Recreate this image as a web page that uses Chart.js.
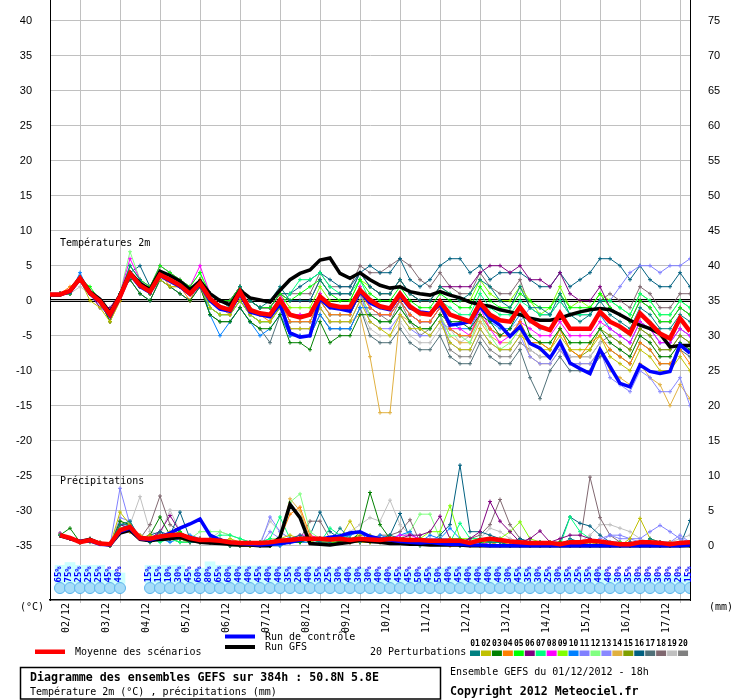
<!DOCTYPE html>
<html>
<head>
<meta charset="utf-8">
<script src="https://cdn.jsdelivr.net/npm/chart.js@4.4.0/dist/chart.umd.min.js"></script>
<style>
  html, body { margin: 0; padding: 0; background: #fff; }
  #wrap { width: 740px; height: 700px; }
</style>
</head>
<body>
<div id="wrap"><canvas id="chart" width="740" height="700"></canvas></div>
<script>
// Time axis: hours after the 01/12 18h run, every 6h up to 384h
const HOURS = [0,6,12,18,24,30,36,42,48,54,60,66,72,78,84,90,96,102,108,114,120,126,132,138,144,150,156,162,168,174,180,186,192,198,204,210,216,222,228,234,240,246,252,258,264,270,276,282,288,294,300,306,312,318,324,330,336,342,348,354,360,366,372,378,384];
const DATE_TICKS = [6,30,54,78,102,126,150,174,198,222,246,270,294,318,342,366];
const DATE_LABELS = ["02/12","03/12","04/12","05/12","06/12","07/12","08/12","09/12","10/12","11/12","12/12","13/12","14/12","15/12","16/12","17/12"];
const TEMP_TICKS = [-35,-30,-25,-20,-15,-10,-5,0,5,10,15,20,25,30,35,40];
const PRECIP_TICKS = [0,5,10,15,20,25,30,35,40,45,50,55,60,65,70,75];

// Temperature 2m (°C)
const T_MEAN = [0.9,0.9,1.4,3.2,1.1,-0.1,-2.0,0.6, 3.9,2.2,1.3,3.7,3.0,2.2,1.0,2.5, 0.3,-0.9,-1.3,1.3,-1.3,-1.8,-2.0,0.1, -2.0,-2.4,-2.0,0.6,-0.6,-0.9,-0.9,1.5, 0.1,-0.8,-1.1,1.0,-0.8,-1.8,-2.0,-0.1, -2.0,-2.5,-3.0,-0.3,-2.0,-2.8,-3.0,-0.9, -2.8,-3.7,-4.2,-1.8,-4.0,-4.0,-4.0,-1.6, -3.0,-3.7,-4.7,-1.8,-3.2,-4.7,-5.4,-2.5, -4.4];
const T_CTRL = [0.9,0.9,1.3,3.1,1.0,-0.2,-2.2,0.5, 3.8,2.0,1.2,3.6,2.8,2.0,0.9,2.3, 0.0,-1.2,-1.5,1.0,-1.6,-2.0,-2.3,-0.5, -4.6,-5.2,-5.0,0.3,-1.0,-1.2,-1.5,1.3, -0.3,-1.0,-1.3,0.8,-1.0,-1.6,-1.8,-0.5, -3.5,-3.3,-3.0,-0.8,-2.5,-3.5,-5.1,-3.7, -6.1,-6.8,-8.2,-5.9,-8.9,-9.7,-10.4,-7.0, -9.4,-11.8,-12.3,-9.2,-10.1,-10.4,-10.1,-6.3, -7.5];
const T_GFS = [0.8,0.8,1.4,3.3,1.3,0.2,-1.7,0.8, 4.0,2.5,1.6,4.2,3.6,2.8,1.6,2.8, 1.0,0.0,-0.6,1.5,0.4,0.1,-0.2,1.5, 3.0,3.9,4.4,5.8,6.1,3.9,3.2,4.0, 3.0,2.2,1.8,2.0,1.3,1.0,0.8,1.3, 0.8,0.4,-0.2,-0.6,-0.8,-1.3,-1.6,-2.0, -2.5,-2.8,-2.8,-2.5,-2.0,-1.6,-1.3,-1.1, -1.3,-2.0,-2.8,-3.5,-4.0,-4.7,-6.6,-6.4, -6.4];
const t01 = [1,1,1,3,1,0,-2,1, 5,3,1,4,3,2,1,2, 1,0,-1,2,0,-1,0,2, 0,0,0,3,1,1,1,4, 2,1,1,3,1,0,0,2, 1,0,1,3,2,0,-1,2, -1,-1,-2,1,-2,-3,-2,0, -2,-3,-4,-1,-2,-4,-4,-2, -3];
const t02 = [1,1,1,3,0,-1,-3,0, 4,2,1,3,2,2,1,2, -1,-2,-2,0,-2,-3,-3,-1, -4,-4,-4,-1,-3,-3,-3,0, -3,-4,-5,-2,-4,-4,-5,-3, -6,-7,-7,-4,-6,-7,-7,-5, -6,-7,-7,-5,-7,-7,-7,-5, -8,-9,-10,-7,-8,-10,-10,-8, -10];
const t03 = [1,1,1,3,1,0,-3,1, 3,1,0,3,2,1,0,2, -2,-3,-3,-1,-3,-4,-4,-2, -6,-6,-7,-3,-6,-5,-5,-2, -2,-3,-3,-1,-3,-4,-4,-2, -3,-3,-4,-2,-3,-5,-4,-1, -5,-6,-6,-4,-6,-6,-6,-4, -6,-7,-8,-5,-6,-8,-8,-6, -7];
const t04 = [1,1,2,3,1,0,-3,0, 4,2,1,4,2,2,0,3, 0,-1,-2,1,-1,-2,-3,0, -3,-3,-3,0,-2,-2,-2,1, -1,-2,-2,0,-2,-3,-3,-1, -4,-5,-5,-2,-4,-5,-5,-3, -6,-6,-7,-4,-7,-8,-6,-5, -7,-8,-9,-6,-7,-9,-9,-7, -9];
const t05 = [1,1,1,3,2,0,-2,1, 5,3,2,5,4,3,2,4, 1,0,0,2,0,-1,-1,1, 0,1,2,3,1,0,0,3, 1,0,0,2,0,-1,-1,1, 0,-1,-1,2,0,-1,-1,1, 0,-1,-1,1,-1,-1,-1,1, -1,-2,-3,0,-1,-3,-3,-1, -2];
const t06 = [1,1,1,3,1,-1,-1,1, 4,2,1,4,3,2,1,3, 1,0,0,2,0,-1,-1,1, 0,0,0,3,1,1,1,4, 2,1,1,3,1,0,0,2, 2,2,2,4,5,5,4,5, 3,3,2,4,1,0,0,2, -1,-2,-3,0,-1,-3,-3,-1, -2];
const t07 = [1,1,1,3,1,0,-2,1, 4,2,1,4,3,2,1,3, -1,-2,-2,0,-2,-3,-3,-1, 1,3,3,4,2,1,1,3, 0,-1,-1,1,-1,-2,-2,0, -1,-2,-2,1,-1,-2,-2,0, -1,-2,-2,0,-2,-2,-2,0, 0,-1,-2,1,0,-2,-2,0, -1];
const t08 = [1,1,1,3,1,0,-2,1, 6,3,2,5,4,3,2,5, 1,0,0,2,0,-1,-1,1, -2,-2,-2,1,-1,-1,-1,2, -1,-2,-2,0,-2,-3,-3,-1, -4,-4,-5,-1,-4,-6,-5,-3, -4,-5,-5,-3,-5,-5,-5,-3, -4,-5,-6,-3,-4,-6,-6,-4, -5];
const t09 = [1,1,1,3,1,0,-2,1, 4,2,1,4,3,2,1,3, 1,0,0,2,0,-1,-1,1, -1,-1,-1,2,0,0,0,3, 2,1,1,3,1,0,0,2, 1,0,0,3,1,0,0,2, 0,-2,-1,2,-1,0,-1,1, 0,-1,-2,1,0,-2,-2,0, -1];
const t10 = [1,1,1,4,1,0,-2,1, 4,2,1,4,3,2,1,3, -2,-5,-3,-1,-3,-5,-4,-2, -5,-5,-5,-2,-4,-4,-4,-1, -1,-2,-2,0,-2,-3,-3,-1, -3,-4,-4,-1,-3,-4,-4,-2, -3,-4,-4,-2,-4,-4,-4,-2, -4,-5,-6,-3,-4,-6,-6,-4, -5];
const t11 = [1,1,1,3,1,0,-2,1, 4,2,1,4,3,2,1,3, 0,-1,-1,1,-1,-2,-2,0, -3,-3,-3,0,-2,-2,-2,1, -3,-4,-4,-2,-4,-5,-5,-3, -4,-5,-5,-2,-4,-5,-5,-3, -1,-2,-2,0,-2,-2,-2,0, 0,2,4,5,5,4,5,5, 6];
const t12 = [1,1,1,3,1,0,-2,1, 7,3,2,5,4,3,2,4, 0,-1,-1,1,-1,-2,-2,0, -3,-3,-3,0,-2,-2,-2,1, -2,-3,-3,-1,-3,-4,-4,-2, -5,-5,-6,-2,-5,-7,-6,-4, -5,-6,-6,-4,-6,-6,-6,-4, -3,-4,-5,-2,-3,-5,-5,-3, -4];
const t13 = [1,1,1,3,1,-1,-2,1, 3,1,0,3,2,1,0,2, -1,-2,-2,0,-2,-3,-3,-1, -4,-4,-4,-1,-3,-3,-3,0, -2,-3,-3,-1,-3,-4,-4,-2, -6,-7,-7,-4,-6,-7,-7,-5, -8,-9,-9,-7,-9,-9,-9,-7, -11,-12,-13,-10,-11,-13,-13,-11, -15];
const t14 = [1,1,1,3,1,0,-2,1, 4,2,1,4,3,2,1,3, 0,-1,-1,1,-1,-2,-2,0, -4,-4,-4,-1,-3,-3,-3,-2, -8,-16,-16,-2,-3,-4,-4,-2, -5,-6,-6,-3,-5,-6,-6,-4, -8,-9,-9,-7,-9,-9,-9,-7, -10,-11,-12,-9,-11,-12,-15,-12, -14];
const t15 = [1,1,1,3,1,0,-2,1, 4,2,1,4,3,2,1,3, -1,-2,-2,0,-2,-3,-3,-1, -2,-2,-2,1,-1,-1,-1,2, -1,-2,-2,0,-2,-3,-3,-1, -4,-5,-5,-2,-4,-5,-5,-3, -6,-6,-7,-4,-7,-8,-7,-4, -5,-6,-7,-4,-5,-7,-7,-5, -6];
const t16 = [1,1,1,3,1,0,-2,1, 4,5,2,4,3,2,1,3, 1,0,0,2,0,-1,-1,1, 1,2,3,4,3,2,2,4, 5,4,4,6,3,2,3,5, 6,6,4,5,3,4,4,4, 3,2,2,4,2,3,4,6, 6,5,3,5,3,2,2,4, 2];
const t17 = [1,1,1,3,1,0,-3,1, 3,1,0,3,2,1,0,2, -2,-3,-3,-1,-3,-4,-6,-2, -5,-5,-5,-2,-4,-4,-4,-1, -5,-6,-6,-4,-6,-7,-7,-5, -8,-9,-9,-6,-8,-9,-9,-7, -11,-14,-10,-8,-10,-10,-10,-8, -7,-8,-9,-6,-7,-9,-9,-7, -8];
const t18 = [1,1,1,3,1,0,-2,1, 4,2,1,4,3,2,1,3, 1,0,0,2,0,-1,-1,1, 1,1,1,4,2,2,2,5, 4,4,5,6,5,3,2,4, 2,1,1,4,2,1,1,3, -1,-2,-2,0,-2,-2,-2,0, 1,0,-1,2,1,-1,-1,1, 1];
const t19 = [1,1,1,2,1,0,-2,1, 4,2,1,3,3,2,1,3, 0,-1,-1,1,-1,-2,-2,0, -5,-5,-5,-2,-4,-4,-4,-1, -4,-5,-5,-3,-5,-6,-6,-4, -4,-6,-5,-3,-4,-5,-4,-3, -7,-8,-8,-6,-8,-8,-8,-6, -6,-7,-8,-5,-6,-8,-8,-6, -7];
const t20 = [1,1,1,3,1,0,-2,1, 4,2,1,4,3,2,1,3, 0,-1,-1,1,-1,-2,-2,0, -3,-3,-3,0,-2,-2,-2,1, -2,-2,-3,0,-3,-5,-4,-2, -7,-8,-8,-5,-7,-8,-8,-6, -7,-8,-8,-6,-8,-8,-8,-6, -5,-6,-7,-4,-5,-7,-7,-5, -6];

// Precipitation (mm per 6h), from +6h
const P_MEAN = [1.5,1.1,0.5,0.8,0.3,0.2,2.2,2.7, 1.1,1.0,1.3,1.5,1.6,1.1,0.8,0.8, 0.7,0.5,0.4,0.4,0.4,0.5,0.7,0.8, 1.0,1.0,1.0,0.9,1.0,0.8,1.0,0.9, 0.8,1.0,0.9,0.8,0.8,0.7,0.7,0.7, 0.7,0.4,0.8,1.0,0.8,0.6,0.5,0.4, 0.4,0.4,0.2,0.5,0.5,0.7,0.6,0.4, 0.2,0.2,0.5,0.5,0.4,0.2,0.4,0.5];
const P_CTRL = [1.5,1,0.6,0.7,0.2,0.1,2,2.5, 1,0.8,1.2,1.8,2.5,3.1,3.8,1.5, 0.8,0.5,0.3,0.2,0.1,0.2,0.3,0.5, 0.8,1,0.9,1.2,1.4,1.8,2,1.3, 1,0.8,0.6,0.5,0.4,0.5,0.3,0.2, 0.2,0.1,0.1,0,0,0,0,0, 0,0,0,0,0,0,0,0, 0,0,0,0,0,0,0,0.1];
const P_GFS = [1.4,1,0.6,0.9,0.3,0.1,1.8,2.2, 0.9,0.7,0.9,1,1.2,0.8,0.5,0.4, 0.3,0.2,0.1,0.1,0,0,1.2,5.9, 4,0.3,0.2,0.1,0.3,0.5,0.8,0.6, 0.5,0.3,0.3,0.2,0.2,0.1,0.1,0.1, 0.1,0,0,0,0,0,0,0, 0,0,0,0,0,0,0,0, 0,0,0,0,0,0,0,0];
const rr01 = [1.5,1,0.5,1,0.3,0,3,3.5, 1,0.5,2,1,1.5,0.5,0.5,1, 0.5,0,0,0.5,0,0,0.5,1, 1.5,1,0.5,0.5,2.5,1,0.5,1, 0.5,1.5,1,0.5,0,0.5,1,0.5, 0,0.5,1,0.5,0.5,0,0,0.5, 0.5,0,0,1,0.5,0,0,0, 0,0.5,0,1,0.5,0,0,0.5];
const rr02 = [1.5,1,0.5,1,0.5,0,4.8,3, 1,1.5,1,2,1.5,1,0.5,0.5, 0.5,1,0.5,0,0,0.5,1,1.5, 1,0.5,1,0.5,1,3.5,1,0.5, 1,0.5,0.5,1,0,0.5,0.5,0, 0.5,0,1,0.5,0,0.5,0,0, 0,0.5,0,0,0,0.5,0,0, 0,1,3.9,1,0.5,0,0,0];
const rr03 = [1.5,2.5,0.5,0.5,0.3,0,3.5,3, 1,1.5,4.1,1.5,1,0.5,0.5,0.5, 0.5,0,0,0,0.5,0,0.5,0.5, 0.5,1,1,1,0.5,0.5,2,7.6, 3,1,0.5,0.5,1,0.5,0.5,0.5, 0,0.5,0.5,1,0.5,0,0,0, 0,0,0.5,0,0,0,0.5,0, 0,0,0,0.5,0,0,0,0.5];
const rr04 = [1.5,1,0.5,0.8,0.3,0,2.5,2, 1.5,1,1,1.5,1,0.5,1,1, 0.5,0.5,0,0,0,0.5,1,4.5, 5.5,1.5,0.5,0.5,1,0.5,0.5,0.5, 0.5,0.5,1,1,0.5,0.5,0.5,1, 0.5,0.5,0,1,0.5,0,0.5,0, 0,0,0.5,0,0.5,0,0,0, 0,0,0.5,0,0,0.5,0,0];
const rr05 = [1.5,1,0.5,0.8,0.3,0.2,2,3, 1,0.5,1,1.5,2,1,0.5,0.5, 0.5,0.5,0.5,0,0,0,0.5,0.5, 0.5,1,0.5,0.5,0.5,0.5,0.5,0.5, 0.5,0.5,0.5,0.5,0.5,0.5,0.5,1, 1,0.5,0.5,0.5,0.5,0.5,0,0, 0,0,0,0,0,0,0,0, 0,0,0,0,0,0,0,0];
const rr06 = [1.8,1,0.5,1,0.5,0,3,2.5, 1,1,2,4.3,2,1,1,0.5, 0.5,0.5,0,0,0,0,0.5,0.5, 1,1,1,0.5,1,0.5,0.5,1, 1,0.5,1,1.5,1.5,2,4.2,1, 0.5,1,2,6.3,3.5,2,0.5,1, 2.1,0.5,1,1.5,1.5,1,0.5,0, 0,0.5,0,0,0.5,0,0,0];
const rr07 = [1.5,1,0.5,0.8,0.3,0,2.5,2.5, 1.5,1,0.5,1,0.5,0.5,1,1, 1.5,1.5,1,0.5,0.5,1,4.1,1, 0.5,1,0.5,2.5,1.5,1,0.5,1, 1,0.5,0.5,1,1,0.5,0.5,0.5, 3.2,1,1,0.5,0.5,0.5,0.5,0.5, 0.5,0.5,0,4.1,2,1,0.5,0, 0,0,0.5,0,0,0,0,0];
const rr08 = [1.5,1,0.5,0.8,0.2,0,2,2.5, 1,1,2,1,1,0.5,0.5,0.5, 0.5,0,0,0,0,0,0.5,1, 1.5,1.5,1,1,0.5,0.5,1,1, 1,1,1.5,1.5,1,0.5,0.5,0, 0,0,0,0.5,0,0,0,0, 0,0,0,0,0,0,0,0, 0,0,0,0,0,0,0,0];
const rr09 = [1.5,1,0.5,0.8,0.3,0,2.5,2, 1,1,1.5,1,0.5,0.5,0.5,1, 0.5,0,0,0,0,0,0.5,1, 1,1,0.5,0.5,0.5,1,1,1, 1,1,0.5,0.5,1,2,2,5.7, 1,1,1,1,1,2,3.4,1, 0.5,0.5,0,0,0,0,0,0, 0.5,0,0,0,0,0,0,0];
const rr10 = [1.5,1,0.5,0.8,0.3,0,2.5,3, 1,1,1,0.5,1,1.5,1,0.5, 0.5,0.5,0,0,0,0,0,0.5, 0.5,0.5,1,1,1,1.5,2,0.5, 1.5,1,1.5,2,0.5,1.5,1,2.5, 1,0.5,0.5,0.5,0,0,0,0, 0,0,0,0.5,0.5,0,0,0, 0,0,0,0,0,0,0,0];
const rr11 = [1.5,1,0.5,0.8,0.3,0,8.2,3, 1,0.5,1,1,1,0.5,0.5,0.5, 0.5,0.5,0,0,0,4.1,2,1, 0.5,1,1,0.5,0.5,1,1,1, 1,0.5,1,0.5,0.5,0.5,1,1, 0.5,0.5,0.5,0.5,1,0.5,0.5,0, 0,0,0,0,0,0.5,0.5,1.5, 1.5,1,1,2,2.9,2,1,0.5];
const rr12 = [1.5,1,0.5,0.8,0.3,0,3,2.5, 1,1,1.5,1,1,1,2,2, 2,1.5,1,0.5,0.5,1,1,6.2, 7.4,2,1,0.5,0.5,1,0.5,0.5, 0.5,1,1,2,4.5,4.5,1,1, 0.5,0.5,0.5,0,0,0,0,0.5, 0.5,0,0,0,0,0,0,0, 0,0,0,0,0,0,0,0];
const rr13 = [1.5,1,0.5,0.8,0.3,0,4,3.5, 1,1,1,1,0.5,0.5,0.5,0.5, 0.5,0,0,0,0,2,1,1, 1,0.5,0.5,0.5,1,1,1,0.5, 0.5,0.5,0.5,0.5,1,1,1,0.5, 0.5,0.5,0.5,0.5,0.5,0.5,0.5,0.5, 0.5,0,0,0,0.5,0.5,1,1.5, 1,1,0.5,0.5,0.5,0.5,1.5,0.5];
const rr14 = [1.5,1,0.5,0.8,0.3,0,3.5,3, 1,1,1.5,1,1,0.5,0.5,0.5, 0.5,0,0,0,0,0,1,6.7, 5,1,0.5,0.5,0.5,0.5,0.5,0.5, 0.5,0.5,0.5,0.5,0.5,0.5,1,0.5, 0.5,0.5,0,0,0,0,0,0, 0,0,0,0,0,0,0,0, 0,0,0,0,0,0,0,0];
const rr15 = [1.5,1,0.5,0.8,0.3,0,2.5,2.5, 1,0.5,1,1,1,0.5,1,1, 0.5,0.5,0,0,0,0,0.5,1, 1,1,1,1,0.5,1,1.5,1.5, 1,1,0.5,0.5,0.5,0.5,1,0.5, 0.5,0.5,0.5,0.5,0.5,0.5,0,0, 0,0,0.5,0.5,0,0,0,0, 0,0,0,0,0,0.5,0,0];
const rr16 = [1.5,1,0.5,0.8,0.3,0,3,3, 1,1.5,2,1.5,4.8,1,1,0.5, 0.5,0.5,0,0,0,0,0.5,0.5, 1,1.5,4.8,2,1,0.5,0.5,1, 1,1.5,4.6,1,1,0.5,1.5,3, 11.5,2,2,1.5,1,0.5,1,0.5, 0.5,0.5,0.5,4.1,3.2,2.8,1.5,0.5, 0.5,0,0,0,0,0,0,3.6];
const rr17 = [1.5,1,0.5,0.8,0.3,0,2.5,2.5, 1,1,1,1.5,1,1,0.5,0.5, 0.5,0.5,0,0,0,0,0,0.5, 0.5,1,1,1,1,1,1,1, 1,0.5,0.5,0.5,0.5,0.5,0.5,0.5, 0.5,0.5,0.5,0,0,0,0,0, 0,0,0,0,0,0.5,0.5,0, 0,0,0,0,0,0,0,0];
const rr18 = [1.5,1,0.5,0.8,0.3,0,2,2.5, 1,3,7.1,3,2,1,0.5,1, 1,0.5,0,0,0,0,0.5,0.5, 1,3.5,3.5,1,1,0.5,0.5,1, 1.5,1.5,2,3.7,0.5,0.5,0.5,0.5, 0.5,1,1.5,3,6.6,3,1,0.5, 0.5,0.5,0,0,0.5,9.8,4,1.5, 0.5,0,0,0,0,0,0,0];
const rr19 = [1.5,1,0.5,0.8,0.3,0,2.5,3, 7,2,1.5,5.1,2,1,1,1, 2,1.5,1,0.5,0.5,3.5,2,1, 1,1,1,1,1.5,2,3,4, 3.5,6.5,3,1.5,1,0.5,1,0.5, 0.5,0.5,1,2.5,2,1,0.5,0.5, 0.5,0,0,0,0.5,1.5,3,3, 2.5,2,1,0.5,0.5,0.5,1,1.5];
const rr20 = [1.5,1,0.5,0.8,0.3,0,2,2, 1,0.5,1,1,0.5,0.5,0.5,0.5, 0.5,0,0,0,0,0,0,0.5, 0.5,0.5,0.5,0.5,0.5,0.5,0.5,0.5, 0.5,0.5,0.5,0.5,0.5,0.5,0.5,0.5, 0.5,0,0,0,0,0,0,0, 0,0,0,0,0,0,0,0, 0,0,0,0,0.5,0.5,0.5,0.5];

// Probability of precipitation (%) per 6h step, and the height of the cyan band behind it
const RAIN_PROB = [65,75,25,25,25,45,40,null,null, 15,15,10,30,45,60,80,65,60,40,40,45,40,40,35,20,40,35,25,30,40,30,30, 40,40,45,45,50,45,50,40,45,40,40,40,40,30,45,35,30,25,30,35,25,35,40,40,30,35,30,30,30,30,20,15];
const BAND_TOP = [-37.8,-37.4,-37.8,-37.8,-37.8,-38.5,-38.9,null,null, -37.8,-37.8,-37.8,-37.8,-38.5,-38.2,-37.3,-37.8,-37.8,-37.9,-37.9,-37.9,-37.9,-38.0,-38.0,-38.0,-38.0,-38.2,-38.2,-38.2,-38.2,-38.2,-38.5, -38.5,-38.5,-38.5,-38.5,-38.5,-38.2,-38.2,-38.0,-38.0,-38.0,-38.0,-38.0,-38.0,-38.2,-38.2,-38.2,-38.5,-38.5,-38.5,-38.5,-38.5,-38.5,-38.5,-39.3,-39.3,-39.3,-39.3,-39.3,-39.3,-39.3,-39.3,-39.3];

const T_PERT = [t01,t02,t03,t04,t05,t06,t07,t08,t09,t10,t11,t12,t13,t14,t15,t16,t17,t18,t19,t20];
const P_PERT = [rr01,rr02,rr03,rr04,rr05,rr06,rr07,rr08,rr09,rr10,rr11,rr12,rr13,rr14,rr15,rr16,rr17,rr18,rr19,rr20];
const PERT_COLORS = ["#008080","#c0c000","#008000","#ff8000","#00ff00","#800080","#00ff80","#ff00ff","#80ff00","#0080ff",
                     "#8080ff","#80ff80","#8888ff","#e0b040","#80a000","#006080","#507078","#806870","#c0c0c0","#808080"];

const BAND_BASE = -40.4;   // bottom of the cyan band (°C axis)
const ICON_ROW = -41.05;   // row of weather icons
const MONO = '"DejaVu Sans Mono", monospace';
const STEP_HOURS = HOURS.slice(1);

const toXY = (vals, hrs) => vals.map((v, i) => ({ x: hrs[i], y: v }));

const lineSet = (vals, hrs, color, width, axis, order, marks) => ({
  type: "line",
  data: toXY(vals, hrs),
  borderColor: color,
  backgroundColor: color,
  borderWidth: width,
  pointStyle: "cross",
  pointRadius: marks ? 2 : 0,
  pointBorderWidth: 1,
  pointBorderColor: color,
  tension: 0,
  yAxisID: axis,
  order: order,
});

const datasets = [];
// Main runs on top
datasets.push(lineSet(T_MEAN, HOURS, "#ff0000", 4.5, "y", 0, false));
datasets.push(lineSet(P_MEAN, STEP_HOURS, "#ff0000", 4.5, "y2", 0, false));
datasets.push(lineSet(T_CTRL, HOURS, "#0000ff", 3.5, "y", 1, false));
datasets.push(lineSet(P_CTRL, STEP_HOURS, "#0000ff", 3.5, "y2", 1, false));
datasets.push(lineSet(T_GFS, HOURS, "#000000", 3.5, "y", 2, false));
datasets.push(lineSet(P_GFS, STEP_HOURS, "#000000", 3.5, "y2", 2, false));
T_PERT.forEach((vals, i) => datasets.push(lineSet(vals, HOURS, PERT_COLORS[i], 1, "y", 3, true)));
P_PERT.forEach((vals, i) => datasets.push(lineSet(vals, STEP_HOURS, PERT_COLORS[i], 1, "y2", 3, true)));

// Cyan probability band and icon row
datasets.push({
  type: "bar",
  data: BAND_TOP.map((v, i) => ({ x: STEP_HOURS[i], y: v === null ? null : [BAND_BASE, v] })),
  backgroundColor: "#ccffff",
  borderWidth: 0,
  barThickness: 10,
  grouped: false,
  yAxisID: "y",
  order: 20,
});
datasets.push({
  type: "line",
  data: RAIN_PROB.map((v, i) => ({ x: STEP_HOURS[i], y: v === null ? null : ICON_ROW })),
  showLine: false,
  pointStyle: "circle",
  pointRadius: 5.5,
  pointBackgroundColor: "#a6dcf8",
  pointBorderColor: "#5ab4ec",
  pointBorderWidth: 1,
  yAxisID: "y",
  order: 19,
});

const overlay = {
  id: "overlay",
  beforeDatasetsDraw(chart) {
    const { ctx, chartArea: a, scales } = chart;
    const y0 = Math.round(scales.y.getPixelForValue(0));
    ctx.save();
    ctx.strokeStyle = "#000";
    ctx.lineWidth = 1;
    [y0 - 1.5, y0 + 0.5].forEach((py) => {
      ctx.beginPath();
      ctx.moveTo(a.left, py);
      ctx.lineTo(a.right, py);
      ctx.stroke();
    });
    ctx.restore();
  },
  afterDatasetsDraw(chart) {
    const { ctx, scales } = chart;
    ctx.save();
    ctx.fillStyle = "#0000ff";
    ctx.font = "bold 9px " + MONO;
    ctx.textAlign = "center";
    ctx.textBaseline = "middle";
    const py = scales.y.getPixelForValue(-39.1);
    RAIN_PROB.forEach((v, i) => {
      if (v === null) return;
      const px = scales.x.getPixelForValue(STEP_HOURS[i]);
      ctx.save();
      ctx.translate(px - 1, py);
      ctx.rotate(-Math.PI / 2);
      ctx.fillText(v + "%", 0, 0);
      ctx.restore();
    });
    ctx.restore();
  },
  afterDraw(chart) {
    const { ctx } = chart;
    ctx.save();
    ctx.fillStyle = "#000";
    ctx.textBaseline = "middle";
    ctx.textAlign = "left";
    ctx.font = "10px " + MONO;
    ctx.fillText("Températures 2m", 60, 243);
    ctx.fillText("Précipitations", 60, 481);
    ctx.fillText("(°C)", 20, 607);
    ctx.fillText("(mm)", 709, 607);

    // legend swatches
    const swatch = (x, y, w, h, c) => { ctx.fillStyle = c; ctx.fillRect(x, y, w, h); };
    swatch(225, 634.5, 30, 4, "#0000ff");
    swatch(225, 645, 30, 4, "#000000");
    swatch(35, 649.5, 30, 4.5, "#ff0000");
    ctx.fillStyle = "#000";
    ctx.fillText("Run de contrôle", 265, 637);
    ctx.fillText("Run GFS", 265, 647);
    ctx.fillText("Moyenne des scénarios", 75, 652);
    ctx.fillText("20 Perturbations", 370, 652);

    ctx.textAlign = "center";
    ctx.font = "bold 8px " + MONO;
    PERT_COLORS.forEach((c, i) => {
      const x = 470 + i * 10.95;
      ctx.fillStyle = "#000";
      ctx.fillText(String(i + 1).padStart(2, "0"), x + 5, 644);
      swatch(x, 650.5, 10, 5.5, c);
    });

    // title box
    ctx.strokeStyle = "#000";
    ctx.lineWidth = 1.5;
    ctx.strokeRect(20.5, 667.5, 420, 31.5);
    ctx.fillStyle = "#000";
    ctx.textAlign = "left";
    ctx.font = "bold 11.6px " + MONO;
    ctx.fillText("Diagramme des ensembles GEFS sur 384h : 50.8N 5.8E", 30, 677.5);
    ctx.font = "10px " + MONO;
    ctx.fillText("Température 2m (°C) , précipitations (mm)", 30, 692);
    ctx.fillText("Ensemble GEFS du 01/12/2012 - 18h", 450, 672);
    ctx.font = "bold 11.6px " + MONO;
    ctx.fillText("Copyright 2012 Meteociel.fr", 450, 692);
    ctx.restore();
  },
};

// vertical axes: fixed width, no extra padding above/below the plot
const fitVertical = (s) => { s.width = 50; s.paddingTop = 0; s.paddingBottom = 0; };

new Chart(document.getElementById("chart").getContext("2d"), {
  data: { datasets },
  plugins: [overlay],
  options: {
    responsive: false,
    animation: false,
    devicePixelRatio: 1,
    layout: { padding: 0, autoPadding: false },
    plugins: { legend: { display: false }, tooltip: { enabled: false } },
    scales: {
      x: {
        type: "linear",
        min: 0,
        max: 384,
        offset: false,
        afterBuildTicks: (s) => { s.ticks = DATE_TICKS.map((v) => ({ value: v })); },
        afterFit: (s) => { s.height = 100; s.paddingLeft = 0; s.paddingRight = 0; },
        ticks: {
          autoSkip: false,
          minRotation: 90,
          maxRotation: 90,
          padding: 0,
          labelOffset: 6,
          color: "#000",
          font: { family: MONO, size: 10 },
          callback: (v) => DATE_LABELS[DATE_TICKS.indexOf(v)] || "",
        },
        grid: { color: "#c0c0c0", tickColor: "#c0c0c0", tickLength: 3 },
        border: { color: "#000", width: 1.5 },
      },
      y: {
        position: "left",
        min: -42.76,
        max: 42.96,
        afterBuildTicks: (s) => { s.ticks = TEMP_TICKS.map((v) => ({ value: v })); },
        afterFit: fitVertical,
        ticks: { padding: 18, color: "#000", font: { family: "Liberation Sans", size: 11 } },
        grid: { color: "#c0c0c0", drawTicks: false },
        border: { color: "#000", width: 1 },
      },
      y2: {
        position: "right",
        min: -7.76,
        max: 77.96,
        afterBuildTicks: (s) => { s.ticks = PRECIP_TICKS.map((v) => ({ value: v })); },
        afterFit: fitVertical,
        ticks: { padding: 18, color: "#000", font: { family: "Liberation Sans", size: 11 } },
        grid: { drawOnChartArea: false, drawTicks: false },
        border: { color: "#000", width: 1 },
      },
    },
  },
});
</script>
</body>
</html>
